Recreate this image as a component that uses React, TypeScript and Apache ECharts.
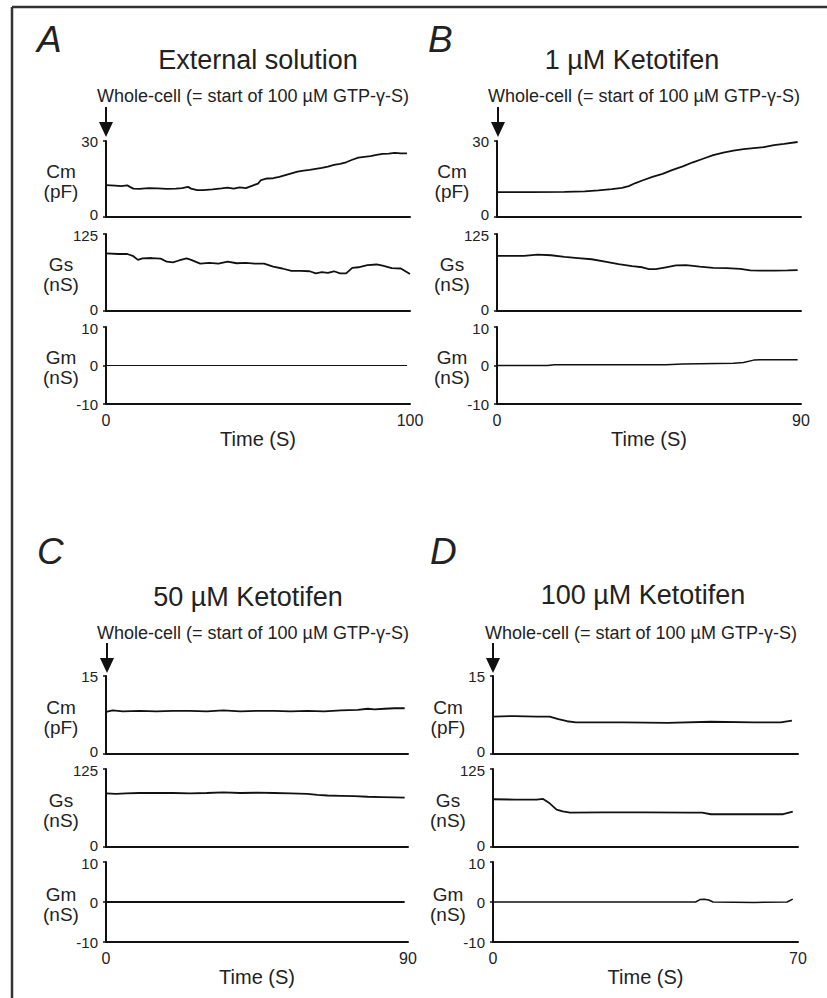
import React, { useEffect, useRef } from "react";
import * as echarts from "echarts";

// ---------------- data ----------------
// Panel A: External solution (0-100 s)
const aCmT = [0,3,5,7,8,9,11,14,17,20,23,25,27,28,30,32,35,38,40,42,44,46,48,50,51,53,55,57,59,61,63,65,67,69,71,73,75,77,79,81,83,85,87,89,91,93,95,97,99];
const aCmV = [12.6,12.4,12.2,12.5,11.8,11.2,11.1,11.4,11.3,11.1,11.2,11.4,11.9,11.2,10.6,10.6,10.9,11.3,11.6,11.2,11.7,11.4,12.3,13.2,14.6,15.2,15.3,15.8,16.5,17.2,17.9,18.3,18.6,19.0,19.4,19.9,20.6,21.0,21.6,22.6,23.4,23.7,24.0,24.5,24.9,25.0,25.3,25.1,25.1];
const aGsT = [0,4,7,9,10.5,12,15,18,20,22,24,26.5,28,31,34,37,40,43,46,49,52,55,58,61,64,67,69,71,73,75,77,79,81,83,86,89,91,94,97,100];
const aGsV = [93.5,92.5,92.5,89,83,85.5,86,85,80,79,82,85.5,83,77,78,77,80,77.5,78,77,77,72,69,65,65,64.5,61,63,62,64.5,61,61,70,71,74.5,75.5,73.5,69.5,69,60];
const aGmT = [0,25,50,75,99];
const aGmV = [0,0,0,0,0];

// Panel B: 1 µM Ketotifen (0-90 s)
const bCmT = [0,10,20,26,30,34,37,39,41,43,46,49,52,55,58,61,64,67,70,73,76,79,82,85,89];
const bCmV = [9.8,9.8,9.9,10.1,10.5,11.0,11.5,12.2,13.4,14.4,15.8,17.0,18.6,20.0,21.6,23.0,24.4,25.4,26.2,26.8,27.2,27.6,28.4,28.9,29.6];
const bGsT = [0,8,12,16,20,24,28,32,36,40,43,45,47,50,53,56,60,64,68,72,75,78,82,86,89];
const bGsV = [89.5,89.5,91.5,90.5,88,86,84,80,76,73,71,68,68,71,74,74.5,72,70,69.5,68.5,66,65.5,65.5,66,66.5];
const bGmT = [0,15,17,50,55,70,73,76,78,89];
const bGmV = [0,0,0.2,0.2,0.4,0.6,0.8,1.4,1.5,1.5];

// Panel C: 50 µM Ketotifen (0-90 s)
const cCmT = [0,2,5,10,15,20,25,30,35,40,45,50,55,60,65,70,75,78,80,83,86,89];
const cCmV = [8.1,8.4,8.2,8.3,8.2,8.3,8.3,8.2,8.4,8.2,8.3,8.3,8.2,8.3,8.2,8.4,8.5,8.7,8.6,8.7,8.8,8.8];
const cGsT = [0,3,6,10,15,20,25,30,35,40,45,50,55,60,63,66,70,74,78,82,86,89];
const cGsV = [86,85,86,86.5,86.5,86.5,86,86.5,87.5,86.5,87,86.5,86,85,83.5,82.5,82,81.5,80.5,80,79.5,79];
const cGmT = [0,30,60,89];
const cGmV = [0,0,0,0];

// Panel D: 100 µM Ketotifen (0-70 s)
const dCmT = [0,5,10,13,15,17,19,22,30,40,50,60,66,68.6];
const dCmV = [7.2,7.3,7.2,7.2,6.7,6.3,6.1,6.1,6.1,6.0,6.2,6.1,6.1,6.4];
const dGsT = [0,5,10,11.5,13,14.6,16,17.7,25,35,45,48,50,60,66.6,68.8];
const dGsV = [76.5,76,76,77,70,60,57,55,55.5,55.5,55,55,52.5,52.5,52.5,56.5];
const dGmT = [0,30,46.5,47.5,48.5,49.5,50.5,60,67.5,68.8];
const dGmV = [0,0,0,0.6,0.7,0.5,0,-0.1,0,0.7];

const panelLetters = ["A", "B", "C", "D"];
const panelTitles = ["External solution", "1 µM Ketotifen", "50 µM Ketotifen", "100 µM Ketotifen"];
const timeMax = [100, 90, 90, 70];
const cmMax = [30, 30, 15, 15];
const gsMax = 125;
const gmRange = [-10, 10];
const rowNames = ["Cm\n(pF)", "Gs\n(nS)", "Gm\n(nS)"];
const wholeCellText = "Whole-cell (= start of 100 µM GTP-γ-S)";
const xAxisName = "Time (S)";

const traces = [
  [[aCmT, aCmV], [aGsT, aGsV], [aGmT, aGmV]],
  [[bCmT, bCmV], [bGsT, bGsV], [bGmT, bGmV]],
  [[cCmT, cCmV], [cGsT, cGsV], [cGmT, cGmV]],
  [[dCmT, dCmV], [dGsT, dGsV], [dGmT, dGmV]],
];

// ---------------- layout ----------------
const FONT = '"Liberation Sans", Arial, Helvetica, sans-serif';
const INK = "#111";
const TXT = "#222";
const TICK_FS = 15;

const layout = [
  { x0: 106, x1: 410, tops: [141, 234, 327], hs: [76, 77, 77], letter: [37, 39], title: [258, 60], wc: [97, 96], arrow: [106, 107], gmW: 1 },
  { x0: 497, x1: 801, tops: [141, 234, 327], hs: [76, 77, 77], letter: [428, 39], title: [632, 60], wc: [488, 96], arrow: [498, 107], gmW: 1.5 },
  { x0: 106, x1: 408, tops: [676, 769, 862], hs: [78, 78, 80], letter: [37, 551], title: [248, 597], wc: [97, 633], arrow: [107, 643], gmW: 2 },
  { x0: 493, x1: 798, tops: [676, 769, 862], hs: [78, 78, 80], letter: [430, 551], title: [643, 595], wc: [485, 633], arrow: [493, 643], gmW: 1.5 },
];

// label nudges (padding) per row: [min-label bottom pad, max-label top pad]
const rowPads = [
  [5, 0],
  [3, 3],
  [0, 3],
];

function richStyle(padTop: number, padBottom: number) {
  return { fontSize: TICK_FS, color: TXT, fontFamily: FONT, padding: [padTop, 0, padBottom, 0] };
}

function buildOption() {
  const grid: any[] = [];
  const xAxis: any[] = [];
  const yAxis: any[] = [];
  const series: any[] = [];
  const graphic: any[] = [];

  // outer frame
  graphic.push({ type: "line", shape: { x1: 12, y1: 7, x2: 827, y2: 7 }, style: { stroke: "#333", lineWidth: 2.5 } });
  graphic.push({ type: "line", shape: { x1: 12, y1: 7, x2: 12, y2: 998 }, style: { stroke: "#333", lineWidth: 2.5 } });

  layout.forEach((L, p) => {
    for (let r = 0; r < 3; r++) {
      const idx = grid.length;
      grid.push({ left: L.x0, top: L.tops[r], width: L.x1 - L.x0, height: L.hs[r], containLabel: false });
      const isBottom = r === 2;
      xAxis.push({
        type: "value",
        gridIndex: idx,
        min: 0,
        max: timeMax[p],
        interval: timeMax[p],
        axisLine: { show: true, onZero: false, lineStyle: { color: INK, width: 2 } },
        axisTick: { show: false },
        splitLine: { show: false },
        axisLabel: { show: isBottom, fontSize: 16, color: TXT, fontFamily: FONT, margin: 8 },
        name: isBottom ? xAxisName : "",
        nameLocation: "middle",
        nameGap: 22,
        nameTextStyle: { fontSize: 20, color: TXT, fontFamily: FONT },
      });
      let ymin = 0, ymax = 0, yint = 0;
      if (r === 0) { ymin = 0; ymax = cmMax[p]; yint = cmMax[p]; }
      else if (r === 1) { ymin = 0; ymax = gsMax; yint = gsMax; }
      else { ymin = gmRange[0]; ymax = gmRange[1]; yint = 10; }
      const lo = ymin, hi = ymax;
      yAxis.push({
        type: "value",
        gridIndex: idx,
        min: ymin,
        max: ymax,
        interval: yint,
        axisLine: { show: true, onZero: false, lineStyle: { color: INK, width: 2 } },
        axisTick: { show: true, length: 3, lineStyle: { color: INK, width: 1.5 } },
        splitLine: { show: false },
        axisLabel: {
          fontSize: TICK_FS,
          color: TXT,
          fontFamily: FONT,
          margin: 8,
          formatter: (v: number) => (v === lo ? `{lo|${v}}` : v === hi ? `{hi|${v}}` : `{mid|${v}}`),
          rich: {
            lo: richStyle(0, rowPads[r][0]),
            hi: richStyle(rowPads[r][1], 0),
            mid: richStyle(0, 0),
          },
        },
      });
      const [tArr, vArr] = traces[p][r] as [number[], number[]];
      series.push({
        type: "line",
        xAxisIndex: idx,
        yAxisIndex: idx,
        data: tArr.map((t, i) => [t, vArr[i]]),
        showSymbol: false,
        symbol: "none",
        lineStyle: { color: INK, width: r === 2 ? L.gmW : 1.8 },
        silent: true,
      });
      // row name
      graphic.push({
        type: "text",
        x: L.x0 - 45,
        y: L.tops[r] + L.hs[r] / 2 + 2,
        style: {
          text: rowNames[r],
          fontSize: 19,
          fontFamily: FONT,
          fill: TXT,
          align: "center",
          verticalAlign: "middle",
          textAlign: "center",
          textVerticalAlign: "middle",
          lineHeight: 20,
        },
      });
    }
    // panel letter
    graphic.push({
      type: "text",
      x: L.letter[0],
      y: L.letter[1],
      style: { text: panelLetters[p], fontSize: 37, fontStyle: "italic", fontFamily: FONT, fill: TXT, align: "left", verticalAlign: "middle", textAlign: "left", textVerticalAlign: "middle" },
    });
    // title
    graphic.push({
      type: "text",
      x: L.title[0],
      y: L.title[1],
      style: { text: panelTitles[p], fontSize: 27, fontFamily: FONT, fill: TXT, align: "center", verticalAlign: "middle", textAlign: "center", textVerticalAlign: "middle" },
    });
    // whole-cell label
    graphic.push({
      type: "text",
      x: L.wc[0],
      y: L.wc[1],
      style: { text: wholeCellText, fontSize: 18, fontFamily: FONT, fill: TXT, align: "left", verticalAlign: "middle", textAlign: "left", textVerticalAlign: "middle" },
    });
    // arrow
    const ax = L.arrow[0], ay = L.arrow[1];
    graphic.push({ type: "line", shape: { x1: ax, y1: ay, x2: ax, y2: ay + 18 }, style: { stroke: INK, lineWidth: 2 } });
    graphic.push({ type: "polygon", shape: { points: [[ax - 7, ay + 15], [ax + 7, ay + 15], [ax, ay + 30]] }, style: { fill: INK } });
  });

  return {
    animation: false,
    backgroundColor: "#fff",
    grid,
    xAxis,
    yAxis,
    series,
    graphic,
  };
}

export default function App() {
  const ref = useRef<HTMLDivElement>(null);
  useEffect(() => {
    if (!ref.current) return;
    const chart = echarts.init(ref.current, undefined, { renderer: "svg" });
    chart.setOption(buildOption());
    return () => chart.dispose();
  }, []);
  return <div ref={ref} style={{ position: "fixed", left: 0, top: 0, width: 827, height: 998, background: "#fff" }} />;
}
